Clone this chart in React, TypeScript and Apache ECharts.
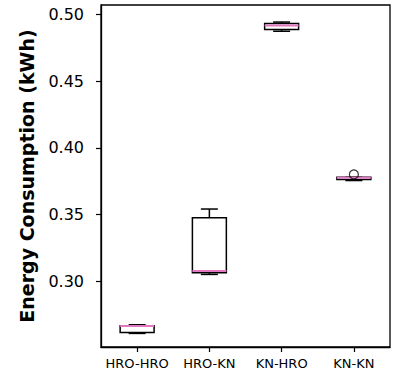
import React, { useEffect, useRef } from "react";
import * as echarts from "echarts";

const categories = ["HRO-HRO", "HRO-KN", "KN-HRO", "KN-KN"];
const whiskerLow = [0.2607, 0.305, 0.4876, 0.3755];
const q1 = [0.2613, 0.3062, 0.4889, 0.3762];
const median = [0.2662, 0.3075, 0.492, 0.3775];
const q3 = [0.2664, 0.3475, 0.4935, 0.3779];
const whiskerHigh = [0.2672, 0.3541, 0.4945, 0.3779];
const outlierCategory = ["KN-KN"];
const outlierValue = [0.3801];
const yTicks = [0.3, 0.35, 0.4, 0.45, 0.5];

const FONT = "DejaVu Sans";

export default function App() {
  const ref = useRef<HTMLDivElement>(null);
  useEffect(() => {
    if (!ref.current) return;
    const chart = echarts.init(ref.current, null, { renderer: "svg" });
    const boxData = categories.map((c, i) => [i, whiskerLow[i], q1[i], median[i], q3[i], whiskerHigh[i]]);
    const outData = outlierCategory.map((c, i) => [categories.indexOf(c), outlierValue[i]]);
    chart.setOption({
      animation: false,
      grid: {
        left: 101,
        right: 19,
        top: 5,
        bottom: 32,
        show: true,
        borderColor: "#000",
        borderWidth: 1.3,
        backgroundColor: "transparent",
      },
      xAxis: {
        type: "category",
        data: categories,
        boundaryGap: true,
        axisLine: { show: true, lineStyle: { color: "#000", width: 1.3 } },
        axisTick: { show: true, alignWithLabel: true, interval: 0, length: 5, lineStyle: { color: "#000", width: 1.2 } },
        axisLabel: { color: "#000", fontFamily: FONT, fontSize: 13, margin: 10, interval: 0 },
        splitLine: { show: false },
      },
      yAxis: {
        type: "value",
        min: 0.2505,
        max: 0.5073,
        name: "Energy Consumption (kWh)",
        nameLocation: "middle",
        nameGap: 65,
        nameTextStyle: { color: "#000", fontFamily: FONT, fontSize: 19, fontWeight: "bold" },
        axisLine: { show: true, lineStyle: { color: "#000", width: 1.3 } },
        axisTick: { show: true, length: 5, customValues: yTicks, lineStyle: { color: "#000", width: 1.2 } },
        axisLabel: {
          color: "#000",
          fontFamily: FONT,
          fontSize: 16,
          margin: 17,
          customValues: yTicks,
          formatter: (v: number) => v.toFixed(2),
        },
        splitLine: { show: false },
      },
      series: [
        {
          type: "custom",
          data: boxData,
          encode: { x: 0, y: [1, 2, 3, 4, 5] },
          renderItem: (params: any, api: any) => {
            const idx = api.value(0);
            const catW = api.size([1, 0])[0];
            const bw = catW * 0.47;
            const cw = bw / 2;
            const pLow = api.coord([idx, api.value(1)]);
            const pQ1 = api.coord([idx, api.value(2)]);
            const pMed = api.coord([idx, api.value(3)]);
            const pQ3 = api.coord([idx, api.value(4)]);
            const pHigh = api.coord([idx, api.value(5)]);
            const x = pQ1[0];
            const black = { stroke: "#000", lineWidth: 1.5, fill: null };
            return {
              type: "group",
              children: [
                { type: "line", shape: { x1: x, y1: pQ1[1], x2: x, y2: pLow[1] }, style: black },
                { type: "line", shape: { x1: x, y1: pQ3[1], x2: x, y2: pHigh[1] }, style: black },
                { type: "line", shape: { x1: x - cw / 2, y1: pLow[1], x2: x + cw / 2, y2: pLow[1] }, style: black },
                { type: "line", shape: { x1: x - cw / 2, y1: pHigh[1], x2: x + cw / 2, y2: pHigh[1] }, style: black },
                {
                  type: "rect",
                  shape: { x: x - bw / 2, y: pQ3[1], width: bw, height: pQ1[1] - pQ3[1] },
                  style: { stroke: "#000", lineWidth: 1.5, fill: "#fff" },
                },
                {
                  type: "line",
                  shape: { x1: x - bw / 2, y1: pMed[1], x2: x + bw / 2, y2: pMed[1] },
                  style: { stroke: "#e377c2", lineWidth: 2 },
                },
              ],
            };
          },
        },
        {
          type: "scatter",
          data: outData,
          symbol: "circle",
          symbolSize: 9,
          itemStyle: { color: "rgba(0,0,0,0)", borderColor: "#000", borderWidth: 1.2 },
          z: 5,
        },
      ],
    });
    return () => chart.dispose();
  }, []);
  return <div ref={ref} style={{ width: 409, height: 379, position: "absolute", left: 0, top: 0 }} />;
}
